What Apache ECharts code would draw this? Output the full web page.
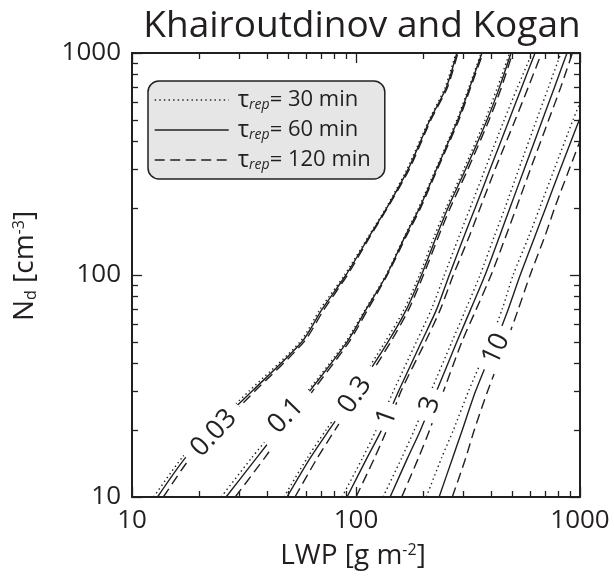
<!DOCTYPE html>
<html><head><meta charset="utf-8">
<script src="https://cdn.jsdelivr.net/npm/echarts@6/dist/echarts.min.js"></script>
<style>html,body{margin:0;padding:0;background:#fff}#c{width:614px;height:578px}</style>
</head><body><div id="c"></div>
<script>
// ---- data ----
// Nd [cm-3] levels at which the contours were read
const ndGrid = [10, 15, 20, 30, 50, 70, 100, 150, 200, 300, 500, 700, 1000];
// LWP [g m-2] of each rain-rate contour at the Nd levels above (tau_rep = 30 / 60 / 120 min)
const lwp_003_30  = [12.5, 16.7, 22.0, 33.3, 56.3, 69.1, 88.9, 114, 136, 169, 212, 250, 279];
const lwp_003_60  = [13.0, 17.3, 22.7, 34.4, 57.4, 70.5, 90.2, 115, 137, 171, 214, 253, 282];
const lwp_003_120 = [13.8, 18.2, 23.7, 35.4, 58.6, 72.0, 91.6, 116, 138, 173, 216, 256, 285];
const lwp_01_30   = [25.0, 34.2, 43.2, 60.9, 89.9, 110, 136, 165, 190, 227, 282, 319, 362];
const lwp_01_60   = [26.3, 36.0, 45.0, 62.1, 91.3, 111, 137, 166, 192, 229, 285, 322, 365];
const lwp_01_120  = [28.9, 39.1, 47.9, 64.0, 93.2, 113, 138, 168, 194, 231, 288, 325, 369];
const lwp_03_30   = [47.7, 60.6, 73.4, 97.5, 135, 164, 192, 224, 252, 303, 377, 428, 485];
const lwp_03_60   = [49.2, 62.5, 75.7, 100, 139, 168, 196, 229, 257, 309, 385, 437, 492];
const lwp_03_120  = [53.4, 67.2, 80.5, 104, 143, 172, 200, 234, 263, 316, 393, 446, 500];
const lwp_1_30    = [86.6, 107, 123, 147, 186, 217, 248, 289, 323, 377, 459, 526, 611];
const lwp_1_60    = [91.2, 112, 130, 155, 196, 229, 261, 304, 340, 397, 483, 549, 630];
const lwp_1_120   = [100, 121, 137, 159, 204, 238, 272, 321, 358, 418, 514, 587, 674];
const lwp_3_30    = [132, 160, 182, 216, 268, 309, 358, 415, 462, 533, 640, 723, 822];
const lwp_3_60    = [142, 170, 194, 229, 282, 325, 377, 438, 486, 564, 680, 769, 875];
const lwp_3_120   = [160, 190, 213, 246, 297, 344, 401, 467, 519, 601, 725, 820, 925];
// the 10 contours leave the frame through the right edge (LWP = 1000)
const nd_10_30    = [10, 15, 20, 30, 50, 70, 100, 150, 200, 300, 500, 596];
const lwp_10_30   = [206, 241, 272, 318, 395, 449, 503, 592, 660, 768, 931, 1000];
const nd_10_60    = [10, 15, 20, 30, 50, 70, 100, 150, 200, 300, 510];
const lwp_10_60   = [235, 270, 298, 342, 420, 478, 541, 630, 702, 817, 1000];
const nd_10_120   = [10, 15, 20, 30, 50, 70, 100, 150, 200, 300, 401];
const lwp_10_120  = [269, 309, 337, 387, 470, 530, 599, 698, 770, 896, 1000];

// contour labels and where they sit
const contourLevels = ['0.03', '0.1', '0.3', '1', '3', '10'];
const labelLWP = [23.2, 48.7, 99, 137.5, 214, 422];
const labelNd  = [19.4, 23.2, 28.8, 22.9, 26.0, 46.4];

const tauNames = ['30', '60', '120'];
const xMajor = [10, 100, 1000];
const xMinor = [20, 30, 40, 50, 60, 70, 80, 90, 200, 300, 400, 500, 600, 700, 800, 900];
const yMajor = [10, 100, 1000];
const yMinor = [20, 30, 40, 50, 60, 70, 80, 90, 200, 300, 400, 500, 600, 700, 800, 900];

// ---- styles ----
const INK = '#231f20';
const FONT = '"Open Sans", "Noto Sans", sans-serif';
const lineType = { '30': [1.4, 3.2], '60': 'solid', '120': [10, 5.5] };
const labelAngle = [47, 46, 55, 70, 72, 65];
const labelPad = [10, 15, 14, 7, 9, 8];

const curves = [
  ['30', lwp_003_30, ndGrid], ['60', lwp_003_60, ndGrid], ['120', lwp_003_120, ndGrid],
  ['30', lwp_01_30, ndGrid],  ['60', lwp_01_60, ndGrid],  ['120', lwp_01_120, ndGrid],
  ['30', lwp_03_30, ndGrid],  ['60', lwp_03_60, ndGrid],  ['120', lwp_03_120, ndGrid],
  ['30', lwp_1_30, ndGrid],   ['60', lwp_1_60, ndGrid],   ['120', lwp_1_120, ndGrid],
  ['30', lwp_3_30, ndGrid],   ['60', lwp_3_60, ndGrid],   ['120', lwp_3_120, ndGrid],
  ['30', lwp_10_30, nd_10_30], ['60', lwp_10_60, nd_10_60], ['120', lwp_10_120, nd_10_120]
];

const series = curves.map(([tau, xs, ys]) => ({
  type: 'line', name: tau, xAxisIndex: 0, yAxisIndex: 0,
  data: xs.map((v, i) => [v, ys[i]]),
  showSymbol: false, symbol: 'none', smooth: 0.25, clip: true, z: 2,
  lineStyle: { color: INK, width: 1.4, type: lineType[tau] },
  itemStyle: { color: INK }
}));

series.push({
  type: 'custom', name: 'levels', xAxisIndex: 0, yAxisIndex: 0, z: 10, silent: true, clip: false,
  data: contourLevels.map((t, i) => [labelLWP[i], labelNd[i], i]),
  renderItem: (params, api) => {
    const i = api.value(2);
    const p = api.coord([api.value(0), api.value(1)]);
    return {
      type: 'text', x: p[0], y: p[1], rotation: labelAngle[i] * Math.PI / 180,
      style: {
        text: contourLevels[i], fontFamily: FONT, fontSize: 27, fill: INK,
        align: 'center', verticalAlign: 'middle',
        backgroundColor: '#ffffff', padding: [0, labelPad[i]]
      }
    };
  }
});

const fmt = v => String(Math.round(v));
function axis(dimMajor, dimMinor, pos, withLabels, isMinor) {
  return {
    type: 'log', logBase: 10, min: 10, max: 1000, position: pos,
    splitLine: { show: false }, minorTick: { show: false },
    axisLine: { show: !isMinor, onZero: false, lineStyle: { color: INK, width: 2 } },
    axisTick: { show: true, inside: true, length: isMinor ? 6 : 10,
      lineStyle: { color: INK, width: 1.3 }, customValues: isMinor ? dimMinor : dimMajor },
    axisLabel: { show: withLabels, customValues: dimMajor, formatter: fmt,
      fontFamily: FONT, fontSize: 26, color: INK, margin: 11 }
  };
}

const xAxes = [axis(xMajor, xMinor, 'bottom', true, false), axis(xMajor, xMinor, 'bottom', false, true),
               axis(xMajor, xMinor, 'top', false, false), axis(xMajor, xMinor, 'top', false, true)];
const yAxes = [axis(yMajor, yMinor, 'left', true, false), axis(yMajor, yMinor, 'left', false, true),
               axis(yMajor, yMinor, 'right', false, false), axis(yMajor, yMinor, 'right', false, true)];

const nameRich = {
  sup: { fontFamily: FONT, fontSize: 16, fill: INK, verticalAlign: 'top' },
  sub: { fontFamily: FONT, fontSize: 16, fill: INK, verticalAlign: 'bottom' }
};

const chart = echarts.init(document.getElementById('c'), null, { renderer: 'canvas' });
chart.setOption({
  animation: false,
  title: {
    text: 'Khairoutdinov and Kogan', left: 357, top: 3, textAlign: 'center',
    textStyle: { fontFamily: FONT, fontSize: 37, fontWeight: 'normal', color: INK }
  },
  grid: { left: 132, right: 34, top: 53, bottom: 81 },
  legend: {
    data: tauNames, orient: 'vertical', left: 148, top: 81,
    itemWidth: 74, itemHeight: 14, itemGap: 6,
    padding: [7, 14, 7, 6],
    backgroundColor: '#e6e6e6', borderColor: INK, borderWidth: 1.5, borderRadius: 11,
    selectedMode: false,
    itemStyle: { color: 'rgba(0,0,0,0)', borderColor: 'rgba(0,0,0,0)', borderWidth: 0 },
    lineStyle: { width: 1.4 },
    formatter: n => '{t|τ}{s|rep}{n|= ' + n + ' min}',
    textStyle: {
      fontFamily: FONT, fontSize: 22, color: INK, lineHeight: 24,
      rich: {
        t: { fontFamily: FONT, fontSize: 24, color: INK, padding: [0, 0, 0, 4] },
        s: { fontFamily: FONT, fontSize: 14, fontStyle: 'italic', color: INK, verticalAlign: 'bottom' },
        n: { fontFamily: FONT, fontSize: 22, color: INK }
      }
    }
  },
  graphic: [
    { type: 'text', x: 353, y: 556, silent: true,
      style: { text: 'LWP [g m{sup|-2}]', fontFamily: FONT, fontSize: 28, fill: INK,
               align: 'center', verticalAlign: 'middle', rich: nameRich } },
    { type: 'text', x: 25, y: 266, rotation: Math.PI / 2, silent: true,
      style: { text: 'N{sub|d} [cm{sup|-3}]', fontFamily: FONT, fontSize: 28, fill: INK,
               align: 'center', verticalAlign: 'middle', rich: nameRich } }
  ],
  xAxis: xAxes,
  yAxis: yAxes,
  series: series
});
</script></body></html>
